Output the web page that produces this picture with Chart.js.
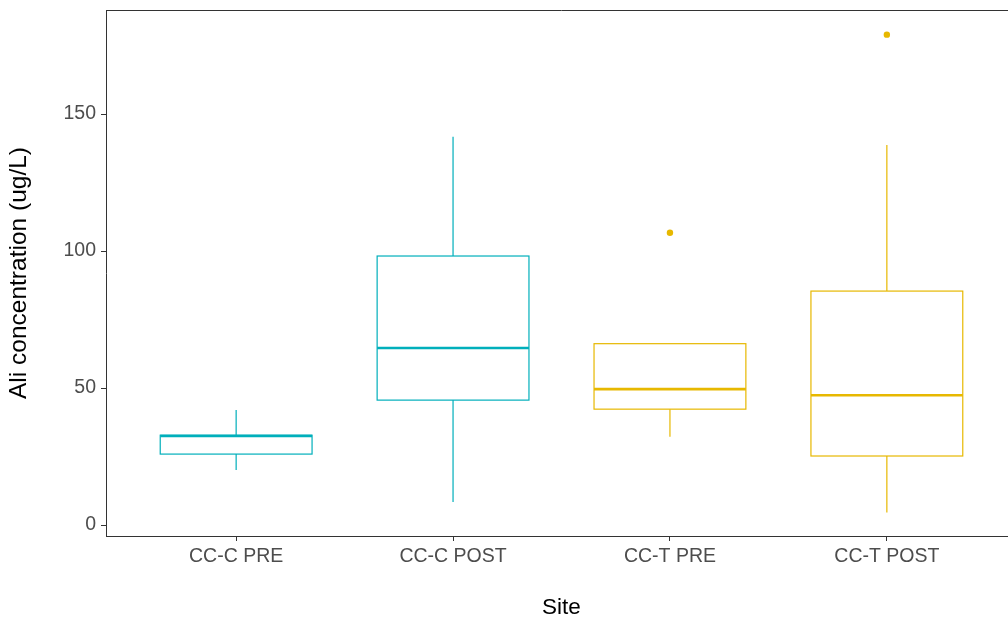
<!DOCTYPE html>
<html>
<head>
<meta charset="utf-8">
<script src="https://cdn.jsdelivr.net/npm/chart.js@4.4.1/dist/chart.umd.min.js"></script>
<style>
  html, body { margin: 0; padding: 0; background: #fff; overflow: hidden; }
  #wrap { position: absolute; left: 0; top: 0; width: 1024px; height: 621px; }
</style>
</head>
<body>
<div id="wrap"><canvas id="boxes" width="1024" height="621"></canvas></div>
<script>
// sites on the x axis
var sites = ["CC-C PRE", "CC-C POST", "CC-T PRE", "CC-T POST"];
// box plot stats (ug/L)
var whiskerLow  = [20.1,   8.4, 32.2,   4.6];
var q1          = [25.9,  45.6, 42.3,  25.2];
var medians     = [32.5,  64.6, 49.6,  47.4];
var q3          = [32.8,  98.2, 66.2,  85.4];
var whiskerHigh = [42.0, 141.7, 66.2, 138.7];
// outliers: site index (1-based) and value
var outlierSite  = [3, 4];
var outlierValue = [106.7, 179.0];
var yTicks = [0, 50, 100, 150];

var siteColors = ["#00AFBB", "#00AFBB", "#E7B800", "#E7B800"];
var FONT = "'Liberation Sans', Arial, sans-serif";

/* plugin: boxes, whiskers and medians from the scales */
var boxPlugin = {
    id: 'boxPlugin',
    afterDatasetsDraw: function(chart) {
        var ctx = chart.ctx;
        var xs = chart.scales.x, ys = chart.scales.y;
        var area = chart.chartArea;
        ctx.save();
        ctx.beginPath();
        ctx.rect(area.left, area.top, area.right - area.left, area.bottom - area.top);
        ctx.clip();
        for (var i = 0; i < sites.length; i++) {
            var c = i + 1;
            var xl = xs.getPixelForValue(c - 0.35);
            var xr = xs.getPixelForValue(c + 0.35);
            var xm = xs.getPixelForValue(c);
            ctx.strokeStyle = siteColors[i];
            ctx.lineWidth = 1.2;
            // whiskers
            ctx.beginPath();
            ctx.moveTo(xm, ys.getPixelForValue(q3[i]));
            ctx.lineTo(xm, ys.getPixelForValue(whiskerHigh[i]));
            ctx.moveTo(xm, ys.getPixelForValue(q1[i]));
            ctx.lineTo(xm, ys.getPixelForValue(whiskerLow[i]));
            ctx.stroke();
            // box
            var yt = ys.getPixelForValue(q3[i]);
            var yb = ys.getPixelForValue(q1[i]);
            ctx.strokeRect(xl, yt, xr - xl, yb - yt);
            // median
            ctx.lineWidth = 2.6;
            ctx.beginPath();
            ctx.moveTo(xl, ys.getPixelForValue(medians[i]));
            ctx.lineTo(xr, ys.getPixelForValue(medians[i]));
            ctx.stroke();
        }
        ctx.restore();
        // top and right panel border
        ctx.save();
        ctx.strokeStyle = '#333333';
        ctx.lineWidth = 1;
        ctx.beginPath();
        ctx.moveTo(area.left, area.top + 0.5);
        ctx.lineTo(area.right, area.top + 0.5);
        ctx.lineTo(area.right, area.bottom);
        ctx.stroke();
        ctx.restore();
    }
};

var outlierPoints = outlierSite.map(function(s, i) {
    return { x: s, y: outlierValue[i] };
});

var ctxBox = document.getElementById("boxes");
var chartBox = new Chart(ctxBox, {
    type: 'scatter',
    data: {
        datasets: [{
            label: 'outliers',
            data: outlierPoints,
            backgroundColor: '#E7B800',
            borderWidth: 0,
            pointRadius: 3.2
        }]
    },
    options: {
        responsive: false,
        animation: false,
        layout: { padding: { left: 0, top: 10, right: 7, bottom: 0 }, autoPadding: false },
        plugins: {
            legend: { display: false },
            tooltip: { enabled: false }
        },
        scales: {
            x: {
                type: 'linear',
                min: 0.4,
                max: 4.6,
                afterBuildTicks: function(scale) {
                    scale.ticks = sites.map(function(s, i) { return { value: i + 1 }; });
                },
                afterFit: function(scale) {
                    scale.height = 85;
                    scale.paddingLeft = 0;
                    scale.paddingRight = 0;
                },
                ticks: {
                    callback: function(v) { return sites[v - 1]; },
                    color: '#4D4D4D',
                    font: { family: FONT, size: 19.5 },
                    padding: 4,
                    maxRotation: 0,
                    autoSkip: false
                },
                grid: { drawOnChartArea: false, drawTicks: true, tickLength: 5, tickColor: '#333333' },
                border: { display: true, color: '#333333', width: 1 },
                title: {
                    display: true,
                    text: 'Site',
                    color: '#000000',
                    font: { family: FONT, size: 22.5 },
                    padding: { top: 14, bottom: 0 }
                }
            },
            y: {
                min: -4,
                max: 188,
                afterBuildTicks: function(scale) {
                    scale.ticks = yTicks.map(function(v) { return { value: v }; });
                },
                afterFit: function(scale) {
                    scale.width = 106;
                    scale.paddingTop = 0;
                    scale.paddingBottom = 0;
                },
                ticks: {
                    color: '#4D4D4D',
                    font: { family: FONT, size: 19.5 },
                    padding: 5
                },
                grid: { drawOnChartArea: false, drawTicks: true, tickLength: 5, tickColor: '#333333' },
                border: { display: true, color: '#333333', width: 1 },
                title: {
                    display: true,
                    text: 'Ali concentration (ug/L)',
                    color: '#000000',
                    font: { family: FONT, size: 24.5 },
                    padding: { top: 5, bottom: 0 }
                }
            }
        }
    },
    plugins: [boxPlugin]
});
</script>
</body>
</html>
